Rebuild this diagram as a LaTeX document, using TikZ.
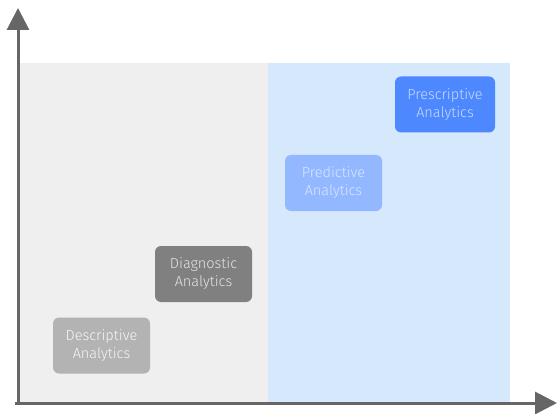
\documentclass[tikz,border=0pt]{standalone}
\usepackage{fontspec}
\setmainfont{Fira Sans}[UprightFont=* Light]
\usetikzlibrary{arrows.meta}
\definecolor{axisc}{HTML}{666666}
\definecolor{lowbg}{HTML}{EFEFEF}
\definecolor{highbg}{HTML}{D5E8FC}
\definecolor{descc}{HTML}{B3B3B3}
\definecolor{diagc}{HTML}{808080}
\definecolor{predc}{HTML}{94B8FF}
\definecolor{presc}{HTML}{4D88FF}
\tikzset{
  stage/.style={rounded corners=6pt, minimum width=97pt, minimum height=56pt, align=center,
    font=\fontsize{14.5}{18}\selectfont, inner sep=0pt},
  axis/.style={draw=axisc, line width=3pt, -{Triangle[length=22pt,width=22pt]}}
}
\begin{document}
\begin{tikzpicture}[x=1pt,y=-1pt]
\useasboundingbox (0,0) rectangle (559,414);
\fill[lowbg] (20,63) rectangle (268,403);
\fill[highbg] (268,63) rectangle (510,403);
\coordinate (o) at (18,403);
\coordinate (ytop) at (18,8);
\coordinate (xend) at (557,403);
\coordinate (xstart) at (15,403);
\draw[axis] (18,405) -- (ytop);
\draw[axis] (xstart) -- (xend);
\node[stage, fill=descc, text=white!88!descc] (desc) at (101.5,345.5) {Descriptive\\Analytics};
\node[stage, fill=diagc, text=white!80!diagc] (diag) at (203.5,274) {Diagnostic\\Analytics};
\node[stage, fill=predc, text=white!65!predc] (pred) at (333.5,183) {Predictive\\Analytics};
\node[stage, fill=presc, minimum width=100pt, text=white!70!presc] (pres) at (445,104.5) {Prescriptive\\Analytics};
\end{tikzpicture}
\end{document}
